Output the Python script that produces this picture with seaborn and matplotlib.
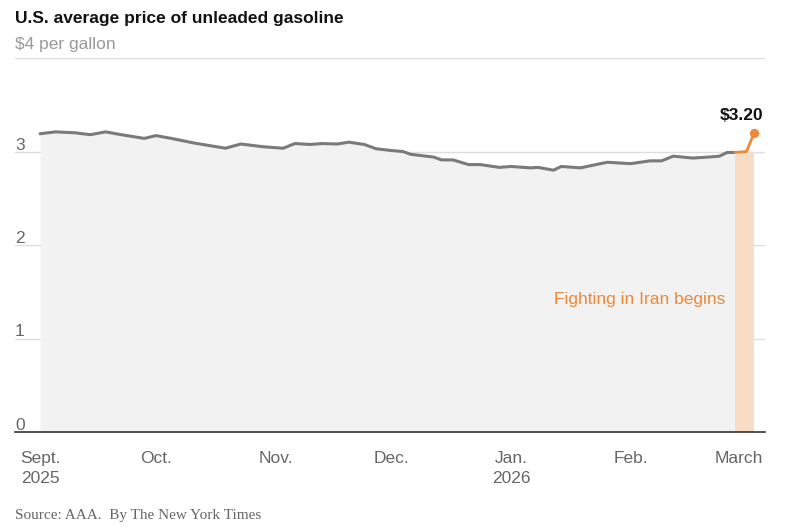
import pandas as pd
import matplotlib.pyplot as plt
import matplotlib.transforms as mtransforms
import seaborn as sns

# Daily-ish readings of the AAA national average, $ per gallon
dates = ['2025-09-01', '2025-09-05', '2025-09-10', '2025-09-14', '2025-09-18',
         '2025-09-22', '2025-09-28', '2025-10-01', '2025-10-05', '2025-10-11',
         '2025-10-19', '2025-10-23', '2025-10-29', '2025-11-03', '2025-11-06',
         '2025-11-10', '2025-11-13', '2025-11-17', '2025-11-20', '2025-11-24',
         '2025-11-27', '2025-12-01', '2025-12-04', '2025-12-06', '2025-12-12',
         '2025-12-14', '2025-12-17', '2025-12-21', '2025-12-24', '2025-12-29',
         '2026-01-01', '2026-01-06', '2026-01-08', '2026-01-12', '2026-01-14',
         '2026-01-19', '2026-01-23', '2026-01-26', '2026-02-01', '2026-02-06',
         '2026-02-09', '2026-02-12', '2026-02-17', '2026-02-21', '2026-02-24',
         '2026-02-26', '2026-02-28']
prices = [3.19, 3.21, 3.20, 3.18, 3.21,
          3.18, 3.14, 3.17, 3.14, 3.09,
          3.035, 3.08, 3.05, 3.035, 3.085,
          3.075, 3.085, 3.08, 3.10, 3.075,
          3.03, 3.01, 3.00, 2.97, 2.94,
          2.91, 2.91, 2.86, 2.86, 2.83,
          2.84, 2.825, 2.83, 2.80, 2.84,
          2.825, 2.86, 2.885, 2.87, 2.90,
          2.90, 2.95, 2.93, 2.94, 2.95,
          2.99, 2.99]

# After the fighting began
war_dates = ['2026-02-28', '2026-03-03', '2026-03-05']
war_prices = [2.99, 3.00, 3.20]

month_ticks = ['2025-09-01', '2025-10-01', '2025-11-01', '2025-12-01',
               '2026-01-01', '2026-02-01', '2026-03-01']
month_labels = ['Sept.\n2025', 'Oct.', 'Nov.', 'Dec.', 'Jan.\n2026', 'Feb.', 'March']
y_ticks = [0, 1, 2, 3]

df = pd.DataFrame({'date': pd.to_datetime(dates), 'price': prices})
war = pd.DataFrame({'date': pd.to_datetime(war_dates), 'price': war_prices})

sns.set_style('white')
plt.rcParams['font.family'] = ['Liberation Sans', 'DejaVu Sans']

GRAY_LINE = '#7a7a7a'
ORANGE = '#ef8838'

fig = plt.figure(figsize=(7.89, 5.30), dpi=100)
ax = fig.add_axes([15 / 789, 1 - 432 / 530, 750 / 789, 374 / 530])

ax.fill_between(df['date'], 0, df['price'], color='#f2f2f2', lw=0, zorder=1)
ax.fill_between(war['date'], 0, war['price'].iloc[0], color='#f9dcc6', lw=0, zorder=1)

sns.lineplot(data=df, x='date', y='price', ax=ax, color=GRAY_LINE, lw=2.2, zorder=3)
sns.lineplot(data=war, x='date', y='price', ax=ax, color=ORANGE, lw=2.0, zorder=4)
ax.scatter(war['date'].iloc[-1], war['price'].iloc[-1], s=45, color=ORANGE, zorder=5, lw=0)

ax.set_xlim(pd.Timestamp('2025-08-25 12:00'), pd.Timestamp('2026-03-07 19:00'))
ax.set_ylim(0, 4)

# gridlines and y labels sitting above them
for v in y_ticks[1:] + [4]:
    ax.axhline(v, color='#dedede', lw=1, zorder=0)
label_trans = mtransforms.blended_transform_factory(ax.transAxes, ax.transData) + \
    mtransforms.ScaledTranslation(0, -1 / 100, fig.dpi_scale_trans)
for v in y_ticks:
    ax.text(0, v, str(v), transform=label_trans, ha='left', va='bottom', fontsize=12.5,
            color='#666666')

ax.set_yticks([])
ax.set_xticks(pd.to_datetime(month_ticks))
ax.set_xticklabels(month_labels, fontsize=12.5, color='#666666', linespacing=1.35)
ax.tick_params(axis='x', direction='out', length=5, width=1, color='#333333', pad=9)
ax.set_xlabel('')
ax.set_ylabel('')

for s in ['top', 'right', 'left']:
    ax.spines[s].set_visible(False)
ax.spines['bottom'].set_color('#333333')
ax.spines['bottom'].set_linewidth(1.2)

ax.annotate('$3.20', (war['date'].iloc[-1], war['price'].iloc[-1]), xytext=(-9, 7),
            textcoords='offset points', ha='center', va='bottom', fontsize=12.5,
            fontweight='bold', color='#121212')
ax.annotate('Fighting in Iran begins', (war['date'].iloc[0], 1.42), xytext=(-7, 0),
            textcoords='offset points', ha='right', va='center', fontsize=12.5,
            color=ORANGE)

fig.text(15 / 789, 1 - 18 / 530, 'U.S. average price of unleaded gasoline', ha='left',
         va='center', fontsize=12.5, fontweight='bold', color='#121212')
fig.text(15 / 789, 1 - 45 / 530, '$4 per gallon', ha='left', va='center', fontsize=12.5,
         color='#999999')
fig.text(15 / 789, 1 - 515 / 530, 'Source: AAA.  By The New York Times', ha='left',
         va='center', fontsize=11, color='#666666', family=['Liberation Serif', 'DejaVu Serif'])

fig.savefig('out.png', dpi=100)
